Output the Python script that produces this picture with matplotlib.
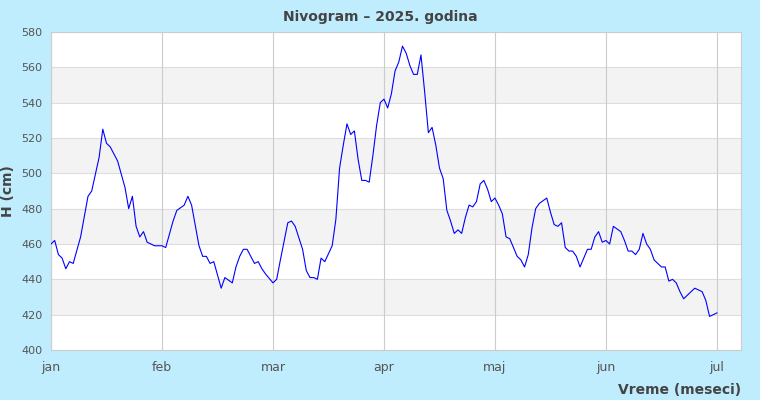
import numpy as np
import matplotlib
matplotlib.use("Agg")
import matplotlib.pyplot as plt

# ==============================================================================
# Nivogram 2025 - vodostaj H (cm), dnevna ocitavanja (dan od 1. januara)
# ==============================================================================

DAYS = [0, 1, 2, 3, 4, 5, 6, 8, 10, 11, 13, 14, 15, 16, 18, 20, 21, 22, 23, 24,
        25, 26, 28, 30, 31, 33, 34, 36, 37, 38, 40, 41, 42, 43, 44, 46, 47, 49,
        50, 51, 52, 53, 55, 56, 57, 58, 60, 61, 62, 64, 65, 66, 68, 69, 70, 71,
        72, 73, 74, 76, 77, 78, 79, 80, 81, 82, 83, 84, 85, 86, 87, 88, 89, 90,
        91, 92, 93, 94, 95, 96, 97, 98, 99, 100, 101, 102, 103, 104, 105, 106,
        107, 108, 109, 110, 111, 112, 113, 114, 115, 116, 117, 118, 119, 120,
        121, 122, 123, 124, 125, 126, 127, 128, 129, 130, 131, 132, 134, 135,
        136, 137, 138, 139, 140, 141, 142, 143, 144, 145, 146, 147, 148, 149,
        150, 151, 152, 154, 155, 156, 157, 158, 159, 160, 161, 162, 163, 165,
        166, 167, 168, 169, 170, 171, 174, 176, 177, 178, 179, 180]

LEVELS = [460, 462, 454, 452, 446, 450, 449, 464, 487, 490, 509, 525, 517, 515,
          507, 492, 480, 487, 470, 464, 467, 461, 459, 459, 458, 473, 479, 482,
          487, 482, 459, 453, 453, 449, 450, 435, 441, 438, 447, 453, 457, 457,
          449, 450, 446, 443, 438, 440, 451, 472, 473, 470, 457, 445, 441, 441,
          440, 452, 450, 459, 474, 503, 516, 528, 522, 524, 508, 496, 496, 495,
          510, 527, 540, 542, 537, 545, 558, 563, 572, 568, 561, 556, 556, 567,
          546, 523, 526, 516, 503, 497, 479, 473, 466, 468, 466, 475, 482, 481,
          484, 494, 496, 491, 484, 486, 482, 477, 464, 463, 458, 453, 451, 447,
          454, 469, 480, 483, 486, 478, 471, 470, 472, 458, 456, 456, 453, 447,
          452, 457, 457, 464, 467, 461, 462, 460, 470, 467, 462, 456, 456, 454,
          457, 466, 460, 457, 451, 447, 447, 439, 440, 438, 433, 429, 435, 433,
          428, 419, 420, 421]

MONTH_LABELS = ["jan", "feb", "mar", "apr", "maj", "jun", "jul"]
MONTH_TICKS = [0, 30, 60, 90, 120, 150, 180]
Y_TICKS = list(range(400, 581, 20))

BG = "#bfedfd"
TEXT = "#444444"

fig = plt.figure(figsize=(7.6, 4.0), dpi=100, facecolor=BG)
ax = fig.add_axes([51 / 760, 50 / 400, 690 / 760, 318 / 400])
ax.set_facecolor("white")

# naizmenicne trake
for lo in range(420, 580, 40):
    ax.axhspan(lo, lo + 20, color="#f3f3f3", zorder=0, lw=0)
for y in Y_TICKS:
    ax.axhline(y, color="#dddddd", lw=0.8, zorder=1)
for x in MONTH_TICKS:
    ax.axvline(x, color="#cccccc", lw=0.8, zorder=1)

ax.plot(DAYS, LEVELS, color="#0000ff", lw=0.8, zorder=3)

ax.set_xlim(0, 186.5)
ax.set_ylim(400, 580)
ax.set_yticks(Y_TICKS)
ax.set_xticks(MONTH_TICKS)
ax.set_xticklabels(MONTH_LABELS)
ax.tick_params(axis="y", length=0, labelsize=8, colors="#555555", pad=6)
ax.tick_params(axis="x", length=0, labelsize=9, colors="#555555", pad=8)
for s in ax.spines.values():
    s.set_color("#cccccc")
    s.set_linewidth(0.8)

fig.text(0.5, 1 - 17 / 400, "Nivogram \u2013 2025. godina", ha="center", va="center",
         fontsize=10, fontweight="bold", color=TEXT)
fig.text(8 / 760, 1 - 191 / 400, "H (cm)", rotation=90, ha="center", va="center",
         fontsize=10, fontweight="bold", color=TEXT)
fig.text(741 / 760, 1 - 390 / 400, "Vreme (meseci)", ha="right", va="center",
         fontsize=10, fontweight="bold", color=TEXT)

plt.savefig("out.png", dpi=100, facecolor=BG)
